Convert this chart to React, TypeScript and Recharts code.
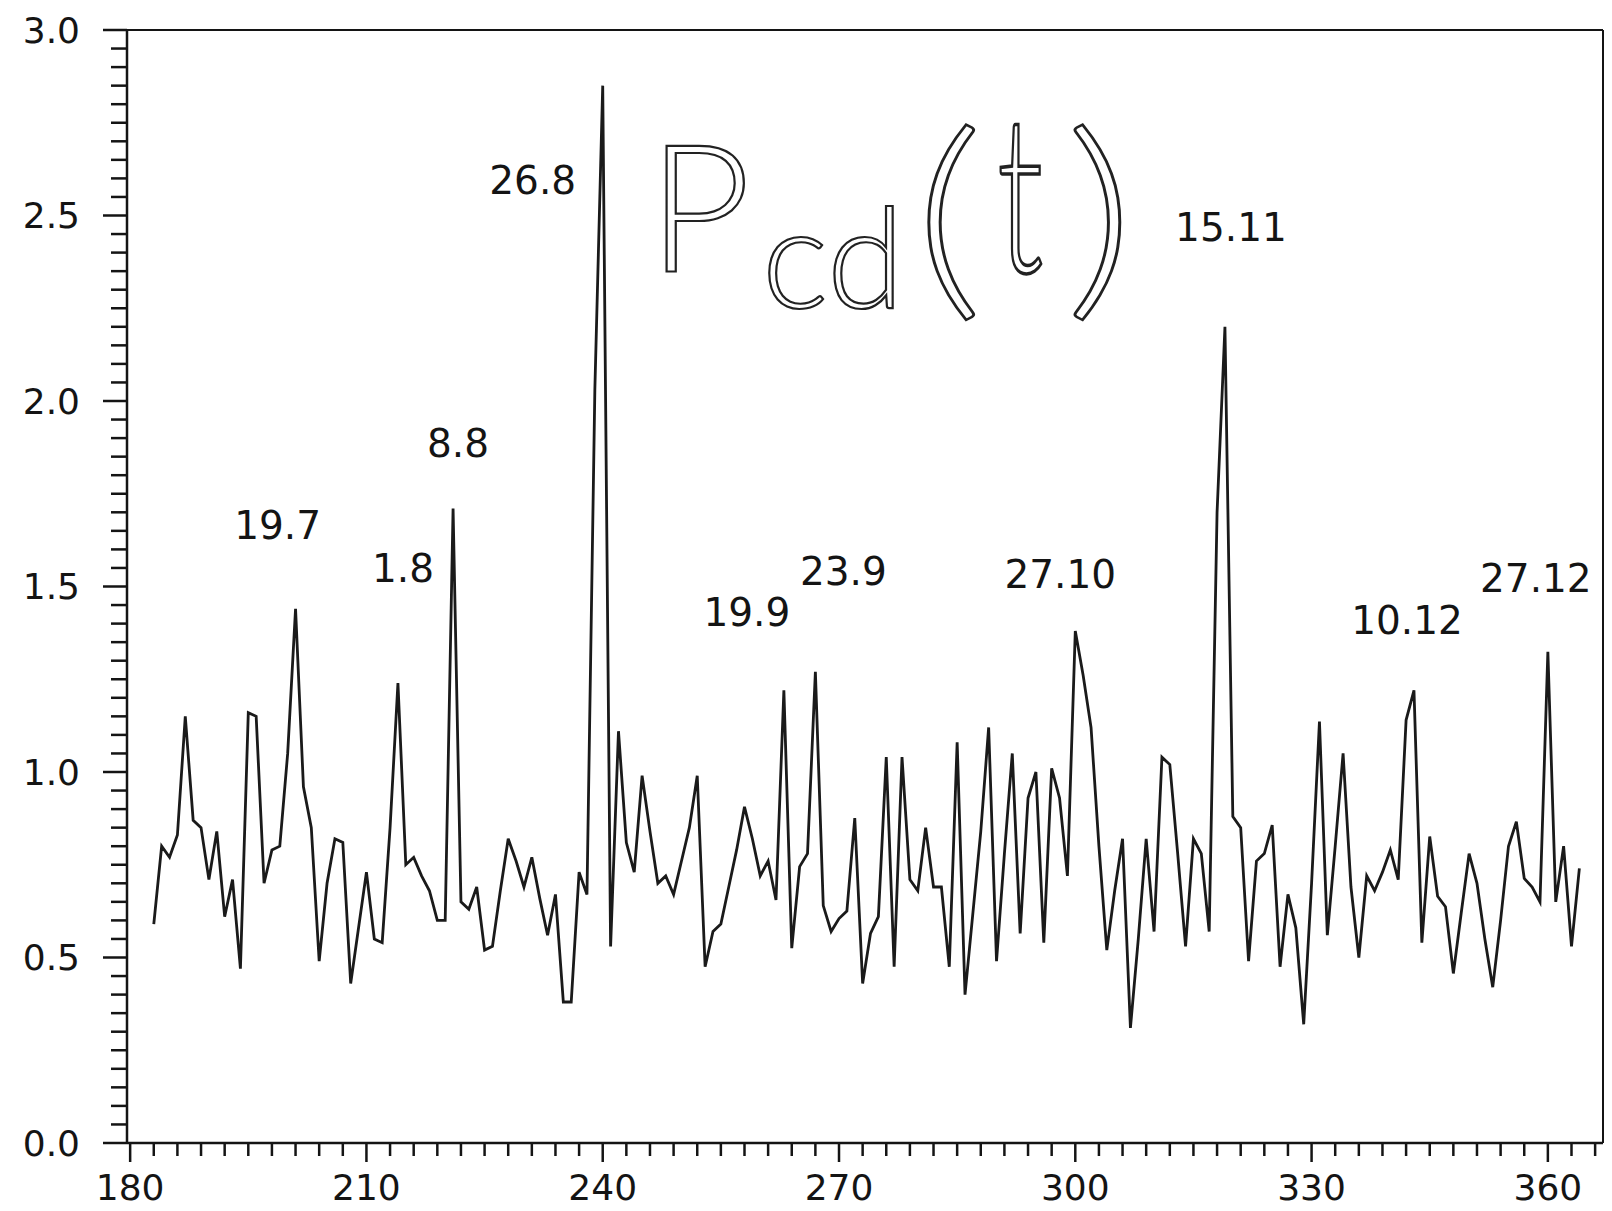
import React from 'react';
import { LineChart, Line, XAxis, YAxis, ReferenceLine } from 'recharts';

// daily values, first point on day 183
const firstDay = 183;
const pcd = [
  0.59, 0.80, 0.77, 0.83, 1.15, 0.87, 0.85, 0.71, 0.84, 0.61,
  0.71, 0.47, 1.16, 1.15, 0.70, 0.79, 0.80, 1.05, 1.44, 0.96,
  0.85, 0.49, 0.70, 0.82, 0.81, 0.43, 0.58, 0.73, 0.55, 0.54,
  0.85, 1.24, 0.75, 0.77, 0.72, 0.68, 0.60, 0.60, 1.71, 0.65,
  0.63, 0.69, 0.52, 0.53, 0.68, 0.82, 0.76, 0.69, 0.77, 0.66,
  0.56, 0.67, 0.38, 0.38, 0.73, 0.67, 2.03, 2.85, 0.53, 1.11,
  0.81, 0.73, 0.99, 0.84, 0.70, 0.72, 0.67, 0.76, 0.85, 0.99,
  0.475, 0.57, 0.59, 0.69, 0.79, 0.906, 0.82, 0.72, 0.76, 0.655,
  1.22, 0.525, 0.745, 0.78, 1.27, 0.64, 0.57, 0.605, 0.625, 0.876,
  0.43, 0.565, 0.61, 1.04, 0.475, 1.04, 0.71, 0.68, 0.85, 0.69,
  0.69, 0.475, 1.08, 0.40, 0.62, 0.84, 1.12, 0.49, 0.78, 1.05,
  0.565, 0.93, 1.0, 0.54, 1.01, 0.93, 0.72, 1.38, 1.26, 1.12,
  0.80, 0.52, 0.68, 0.82, 0.31, 0.55, 0.82, 0.57, 1.04, 1.02,
  0.78, 0.53, 0.82, 0.78, 0.57, 1.70, 2.20, 0.88, 0.85, 0.49,
  0.76, 0.78, 0.857, 0.475, 0.67, 0.58, 0.32, 0.70, 1.136, 0.56,
  0.80, 1.05, 0.69, 0.50, 0.72, 0.68, 0.73, 0.79, 0.71, 1.14,
  1.22, 0.54, 0.826, 0.665, 0.637, 0.457, 0.62, 0.78, 0.70, 0.55,
  0.42, 0.60, 0.80, 0.866, 0.713, 0.69, 0.65, 1.324, 0.65, 0.80,
  0.53, 0.74,
];

const xTicks = [180, 210, 240, 270, 300, 330, 360];
const yTicks = [0, 0.5, 1, 1.5, 2, 2.5, 3];

// date of each marked peak (day.month) and the day it sits on
const peakDays = [201, 214, 221, 240, 263, 267, 300, 319, 343, 360];
const peakDates = ['19.7', '1.8', '8.8', '26.8', '19.9', '23.9', '27.10', '15.11', '10.12', '27.12'];

// where each date text sits relative to its peak
const peakLabelShift: Record<string, [number, number]> = {
  '19.7': [-18, -83],
  '1.8': [5, -114],
  '8.8': [5, -65],
  '26.8': [-70, 95],
  '19.9': [-37, -78],
  '23.9': [28, -100],
  '27.10': [-15, -57],
  '15.11': [6, -99],
  '10.12': [-7, -70],
  '27.12': [-12, -73],
};

const data = pcd.map((v, i) => ({ day: firstDay + i, v }));

const xMinor: number[] = [];
for (let t = 180; t <= 366; t += 3) xMinor.push(t);
const yMinor: number[] = [];
for (let k = 0; k <= 60; k++) yMinor.push(Math.round(k * 5) / 100);

const INK = '#141414';
const FONT = '"DejaVu Sans", sans-serif';

const XTick = (props: any) => {
  const { x, y, payload } = props;
  const major = xTicks.includes(payload.value);
  return (
    <g>
      <line x1={x} x2={x} y1={y} y2={y + (major ? 19 : 13)} stroke={INK} strokeWidth={2.5} />
      {major && (
        <text x={x} y={y + 44} textAnchor="middle" dominantBaseline="central"
          fontFamily={FONT} fontSize={36} fill={INK}>
          {payload.value}
        </text>
      )}
    </g>
  );
};

const YTick = (props: any) => {
  const { x, y, payload } = props;
  const v = payload.value;
  const major = yTicks.some((t) => Math.abs(t - v) < 1e-6);
  return (
    <g>
      <line x1={x - (major ? 24 : 16)} x2={x} y1={y} y2={y} stroke={INK} strokeWidth={2.5} />
      {major && (
        <text x={x - 47} y={y} textAnchor="end" dominantBaseline="central"
          fontFamily={FONT} fontSize={36} fill={INK}>
          {v.toFixed(1)}
        </text>
      )}
    </g>
  );
};

const PeakLabel = (props: any) => {
  const { index } = props;
  const x = props.x ?? props.viewBox?.x;
  const y = props.y ?? props.viewBox?.y;
  const row = data[index];
  if (!row) return null;
  const k = peakDays.indexOf(row.day);
  if (k < 0) return null;
  const text = peakDates[k];
  const [dx, dy] = peakLabelShift[text];
  return (
    <text x={x + dx} y={y + dy} textAnchor="middle" dominantBaseline="central"
      fontFamily={FONT} fontSize={39} fill={INK}>
      {text}
    </text>
  );
};

const Title = () => {
  const outline = { fill: '#fff', stroke: '#222', strokeWidth: 2.2, fontFamily: 'Lato, sans-serif', fontWeight: 300 };
  return (
    <svg width={1612} height={1211} style={{ position: 'absolute', left: -8, top: -8, pointerEvents: 'none' }}>
      <text x={648} y={272} fontSize={178} {...outline}>P</text>
      <text x={762} y={308} fontSize={140} {...outline}>cd</text>
      <text transform="translate(914,291) scale(1.35,1.09)" fontSize={200} {...outline}>(</text>
      <text transform="translate(997,272) scale(1,1.62)" fontSize={135} {...outline}>t</text>
      <text transform="translate(1065,291) scale(1.35,1.09)" fontSize={200} {...outline}>)</text>
    </svg>
  );
};

export default function App() {
  return (
    <div style={{ position: 'relative', width: 1596, height: 1203 }}>
      <LineChart width={1596} height={1203} data={data}
        margin={{ top: 22, right: 1, bottom: 0, left: 0 }}>
        <XAxis dataKey="day" type="number" domain={[179.6, 367]} allowDataOverflow
          ticks={xMinor} interval={0} tickSize={0} tickMargin={0} tickLine={false}
          axisLine={{ stroke: INK, strokeWidth: 2.5 }} tick={<XTick />} height={68} />
        <YAxis type="number" domain={[0, 3]} allowDataOverflow ticks={yMinor} interval={0}
          tickSize={0} tickMargin={0} tickLine={false}
          axisLine={{ stroke: INK, strokeWidth: 2.5 }} tick={<YTick />} width={119} />
        <ReferenceLine y={3} stroke={INK} strokeWidth={2} />
        <ReferenceLine x={367} stroke={INK} strokeWidth={2} />
        <Line type="linear" dataKey="v" stroke="#1a1a1a" strokeWidth={2.8} dot={false}
          isAnimationActive={false} label={PeakLabel} />
      </LineChart>
      <Title />
    </div>
  );
}
